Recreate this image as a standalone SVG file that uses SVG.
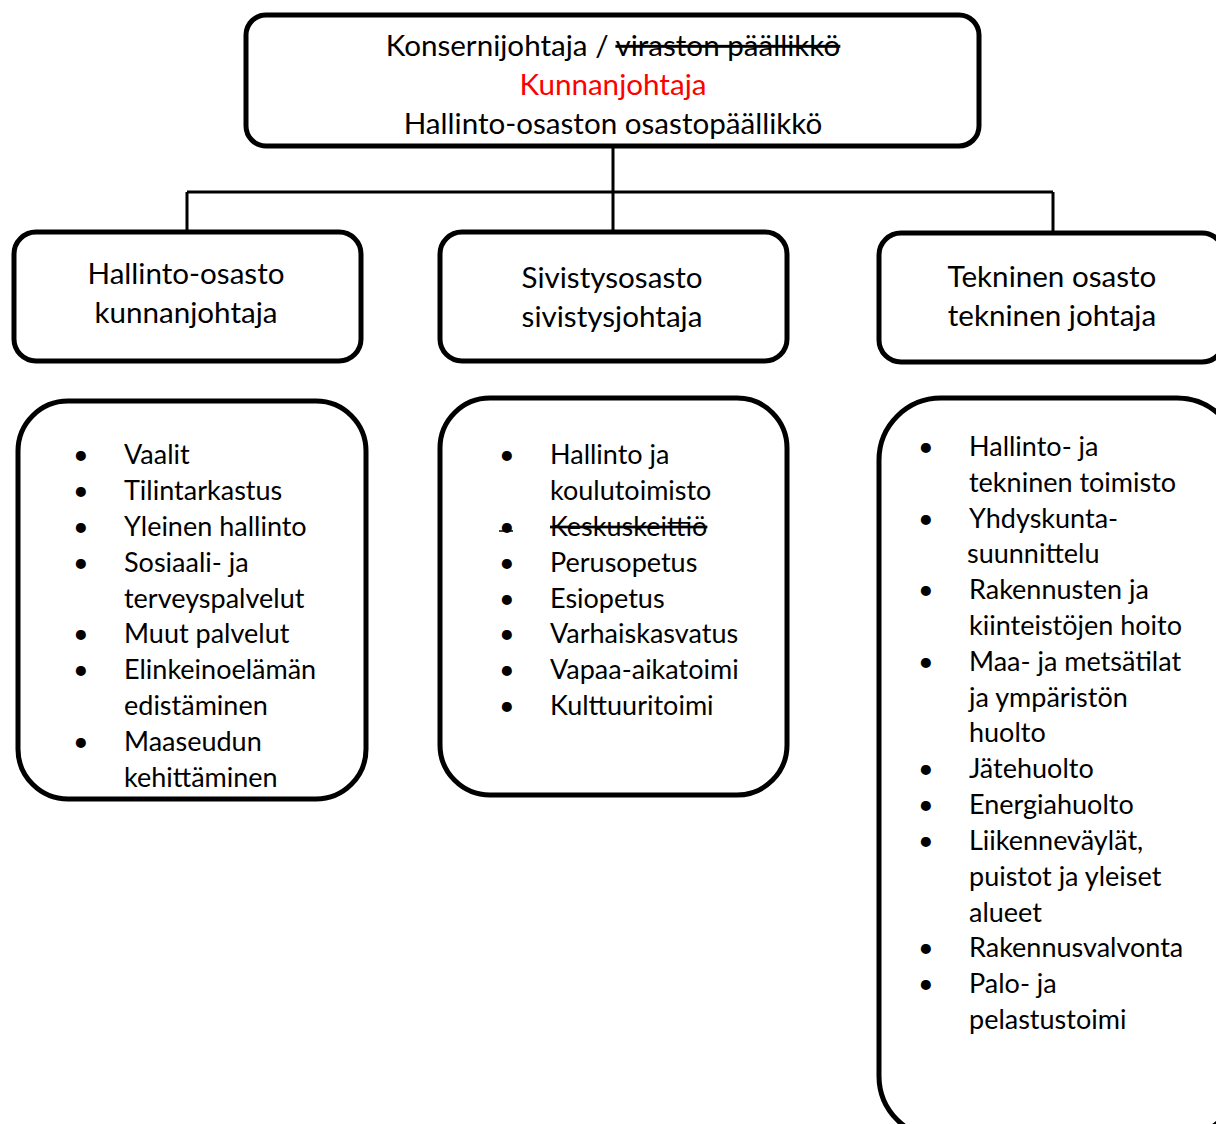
<svg xmlns="http://www.w3.org/2000/svg" width="1216" height="1124" viewBox="0 0 1216 1124">
<style>
.box{fill:#fff;stroke:#000;stroke-width:5}
.con{stroke:#000;stroke-width:3;fill:none}
text{font-family:Lato,"Open Sans",sans-serif;font-size:27px;fill:#000}
.c{text-anchor:middle;font-size:29.6px}
.red{fill:#ff0000}
.st{text-decoration:line-through}
</style>
<rect width="1216" height="1124" fill="#fff"/>
<g id="connectors">
<path class="con" d="M613 146 V232 M187 192 H1053 M187 192 V232 M1053 192 V232"/>
</g>
<g id="top">
<rect class="box" x="246" y="15" width="733" height="131" rx="20"/>
<text class="c" x="613" y="56">Konsernijohtaja / <tspan class="st">viraston päällikkö</tspan></text>
<text class="c red" x="613" y="95">Kunnanjohtaja</text>
<text class="c" x="613" y="134">Hallinto-osaston osastopäällikkö</text>
</g>
<g id="hallinto">
<rect class="box" x="14" y="232" width="347" height="129" rx="22"/>
<text class="c" x="186" y="284">Hallinto-osasto</text>
<text class="c" x="186" y="323">kunnanjohtaja</text>
</g>
<g id="sivistys">
<rect class="box" x="440" y="232" width="347" height="129" rx="22"/>
<text class="c" x="612" y="288">Sivistysosasto</text>
<text class="c" x="612" y="327">sivistysjohtaja</text>
</g>
<g id="tekninen">
<rect class="box" x="879" y="233" width="345" height="129" rx="22"/>
<text class="c" x="1052" y="287">Tekninen osasto</text>
<text class="c" x="1052" y="326">tekninen johtaja</text>
</g>
<g id="list-hallinto">
<rect class="box" x="18" y="401" width="348" height="398" rx="50"/>
<text x="73" y="464">•</text><text x="124" y="464">Vaalit</text>
<text x="73" y="500">•</text><text x="124" y="500">Tilintarkastus</text>
<text x="73" y="536">•</text><text x="124" y="536">Yleinen hallinto</text>
<text x="73" y="572">•</text><text x="124" y="572">Sosiaali- ja</text>
<text x="124" y="608">terveyspalvelut</text>
<text x="73" y="643">•</text><text x="124" y="643">Muut palvelut</text>
<text x="73" y="679">•</text><text x="124" y="679">Elinkeinoelämän</text>
<text x="124" y="715">edistäminen</text>
<text x="73" y="751">•</text><text x="124" y="751">Maaseudun</text>
<text x="124" y="787">kehittäminen</text>
</g>
<g id="list-sivistys">
<rect class="box" x="440" y="398" width="347" height="397" rx="50"/>
<text x="499" y="464">•</text><text x="550" y="464">Hallinto ja</text>
<text x="550" y="500">koulutoimisto</text>
<text x="499" y="536">•</text><path d="M499 531 H513" stroke="#000" stroke-width="1.5"/><text x="550" y="536" class="st">Keskuskeittiö</text>
<text x="499" y="572">•</text><text x="550" y="572">Perusopetus</text>
<text x="499" y="608">•</text><text x="550" y="608">Esiopetus</text>
<text x="499" y="643">•</text><text x="550" y="643">Varhaiskasvatus</text>
<text x="499" y="679">•</text><text x="550" y="679">Vapaa-aikatoimi</text>
<text x="499" y="715">•</text><text x="550" y="715">Kulttuuritoimi</text>
</g>
<g id="list-tekninen">
<rect class="box" x="879" y="398" width="360" height="740" rx="62"/>
<text x="918" y="456">•</text><text x="969" y="456">Hallinto- ja</text>
<text x="969" y="492">tekninen toimisto</text>
<text x="918" y="528">•</text><text x="969" y="528">Yhdyskunta-</text>
<text x="967" y="563">suunnittelu</text>
<text x="918" y="599">•</text><text x="969" y="599">Rakennusten ja</text>
<text x="969" y="635">kiinteistöjen hoito</text>
<text x="918" y="671">•</text><text x="969" y="671">Maa- ja metsätilat</text>
<text x="969" y="707">ja ympäristön</text>
<text x="969" y="742">huolto</text>
<text x="918" y="778">•</text><text x="969" y="778">Jätehuolto</text>
<text x="918" y="814">•</text><text x="969" y="814">Energiahuolto</text>
<text x="918" y="850">•</text><text x="969" y="850">Liikenneväylät,</text>
<text x="969" y="886">puistot ja yleiset</text>
<text x="969" y="922">alueet</text>
<text x="918" y="957">•</text><text x="969" y="957">Rakennusvalvonta</text>
<text x="918" y="993">•</text><text x="969" y="993">Palo- ja</text>
<text x="969" y="1029">pelastustoimi</text>
</g>
</svg>
